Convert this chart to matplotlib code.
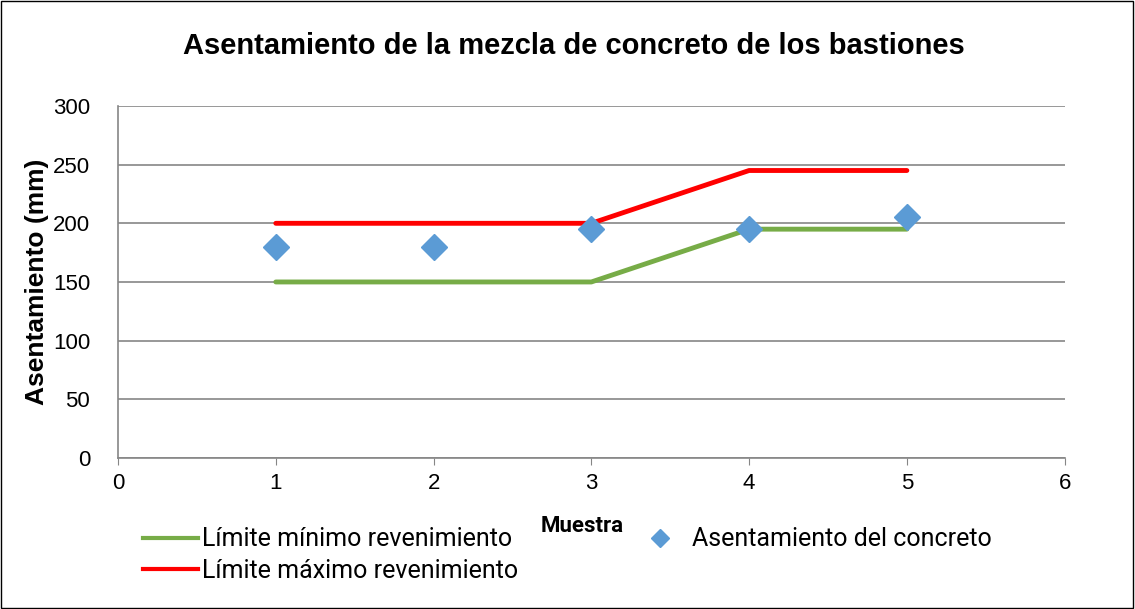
import matplotlib
matplotlib.use("Agg")
import matplotlib.pyplot as plt
from matplotlib.lines import Line2D
from matplotlib.patches import Rectangle
from matplotlib import font_manager as fm

muestras = [1, 2, 3, 4, 5]
limite_min = [150, 150, 150, 195, 195]
limite_max = [200, 200, 200, 245, 245]
asentamiento = [180, 180, 195, 195, 205]
yticks = [0, 50, 100, 150, 200, 250, 300]
xticks = [0, 1, 2, 3, 4, 5, 6]

plt.rcParams['font.family'] = ['Liberation Sans', 'DejaVu Sans']


def pick_font(family, weight, size):
    cands = [f for f in fm.fontManager.ttflist
             if f.name == family and f.style == 'normal'
             and 'italic' not in f.fname.lower() and 'oblique' not in f.fname.lower()]
    if cands:
        best = min(cands, key=lambda f: abs((f.weight if isinstance(f.weight, int) else 400) - weight))
        return fm.FontProperties(fname=best.fname, size=size)
    return fm.FontProperties(family='Liberation Sans', size=size,
                             weight='bold' if weight >= 600 else 'normal')


legprop = pick_font('Roboto', 400, 18)
muestraprop = pick_font('Roboto', 700, 16)

fig = plt.figure(figsize=(11.35, 6.09), dpi=100)
fig.patches.append(Rectangle((0.001, 0.001), 0.997, 0.997, transform=fig.transFigure,
                             fill=False, edgecolor='black', linewidth=1.0))
ax = fig.add_axes([0.104, 0.248, 0.834, 0.578])

ax.plot(muestras, limite_min, color='#77AC47', linewidth=3.5, solid_capstyle='round',
        label='Límite mínimo revenimiento', zorder=3)
ax.plot(muestras, limite_max, color='#FF0000', linewidth=3.5, solid_capstyle='round',
        label='Límite máximo revenimiento', zorder=3)
ax.plot(muestras, asentamiento, linestyle='none', marker='D', markersize=13,
        color='#5B9BD5', label='Asentamiento del concreto', zorder=4)

ax.set_xlim(0, 6)
ax.set_ylim(0, 300)
ax.set_xticks(xticks)
ax.set_yticks(yticks)
ax.tick_params(axis='both', labelsize=16, color='#868686', direction='out')
ax.tick_params(axis='x', length=5, pad=6)
ax.tick_params(axis='y', length=0, pad=20)
ax.grid(axis='y', color='#868686', linewidth=1.2)
ax.set_axisbelow(True)
for s in ['top', 'right']:
    ax.spines[s].set_visible(False)
for s in ['left', 'bottom']:
    ax.spines[s].set_color('#868686')
    ax.spines[s].set_linewidth(1.2)

ax.set_ylabel('Asentamiento (mm)', fontsize=19, fontweight='bold', labelpad=3)
fig.text(0.506, 0.924, 'Asentamiento de la mezcla de concreto de los bastiones',
         ha='center', va='center', fontsize=21, fontweight='bold')
fig.text(0.513, 0.136, 'Muestra', ha='center', va='center', fontproperties=muestraprop)

leg1 = fig.legend(handles=[Line2D([], [], color='#77AC47', linewidth=3),
                           Line2D([], [], color='#FF0000', linewidth=3)],
                  labels=['Límite mínimo revenimiento', 'Límite máximo revenimiento'],
                  loc='upper left', bbox_to_anchor=(0.126, 0.134), frameon=False,
                  prop=legprop, handlelength=2.2, handletextpad=0.15,
                  labelspacing=0.3, borderaxespad=0, borderpad=0)
leg2 = fig.legend(handles=[Line2D([], [], linestyle='none', marker='D', markersize=9, color='#5B9BD5')],
                  labels=['Asentamiento del concreto'],
                  loc='upper left', bbox_to_anchor=(0.568, 0.134), frameon=False,
                  prop=legprop, handlelength=1.2, handletextpad=0.7,
                  borderaxespad=0, borderpad=0)

fig.savefig('out.png', dpi=100)
